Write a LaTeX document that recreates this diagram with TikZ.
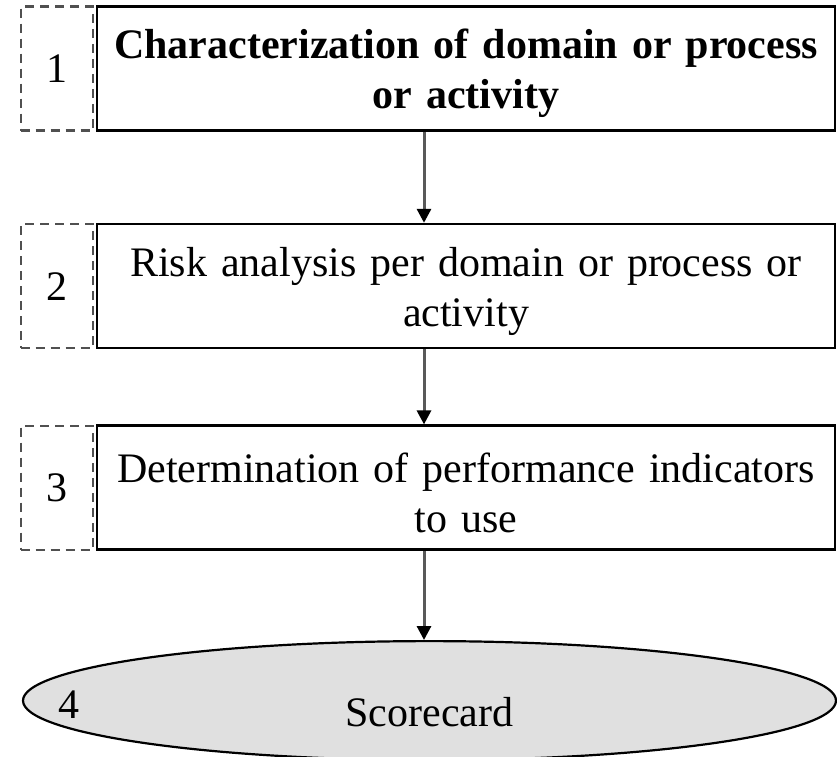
\documentclass[tikz,border=0pt]{standalone}
\usepackage{fontspec}
\setmainfont{Liberation Serif}
\usepackage{tikz}
\usetikzlibrary{arrows.meta, positioning, shapes.geometric}
\definecolor{stepgray}{RGB}{224,224,224}
\definecolor{dashgray}{RGB}{80,80,80}

\begin{document}
\begin{tikzpicture}[
  x=1pt, y=1pt,
  stagebox/.style={rectangle, draw=black, line width=2.6pt, minimum width=738pt,
              minimum height=124pt, text width=720pt, align=center, inner sep=0pt,
              text height=40pt, font=\fontsize{42}{50}\selectfont},
  numbox/.style={rectangle, draw=dashgray, dash pattern=on 9pt off 6pt,
              line width=2.2pt, minimum width=72pt, minimum height=124pt,
              inner sep=0pt, font=\fontsize{42}{50}\selectfont},
  arrow/.style={-{Triangle[length=14pt,width=14pt,color=black]}, line width=3pt, black!65}
]
\useasboundingbox (0,0) rectangle (837,-756);

% Steps
\node[stagebox, font=\fontsize{42}{50}\selectfont\bfseries] (char) at (466,-68.5)
  {Characterization of domain or process\\or activity};
\node[stagebox, below=91pt of char] (risk)
  {Risk analysis per domain or process or\\activity};
\node[stagebox, below=75pt of risk] (perf)
  {Determination of performance indicators\\to use};

% Step numbers
\node[numbox, left=2pt of char] (n1) {1};
\node[numbox, left=2pt of risk] (n2) {2};
\node[numbox, left=2pt of perf] (n3) {3};

% Result
\node[ellipse, draw=black, line width=2.2pt, fill=stepgray, minimum width=813pt,
      minimum height=119pt, inner sep=0pt, below=89pt of perf, xshift=-36.5pt] (score) {};
\node[font=\fontsize{42}{50}\selectfont, yshift=-12pt] (scorelbl) at (score.center) {Scorecard};
\node[font=\fontsize{42}{50}\selectfont, right=33pt of score.west, yshift=-4pt] (n4) {4};

% Arrows
\draw[arrow] ([xshift=-42pt]char.south) -- ([xshift=-42pt]risk.north);
\draw[arrow] ([xshift=-42pt]risk.south) -- ([xshift=-42pt]perf.north);
\draw[arrow] ([xshift=-42pt]perf.south) -- ([xshift=-42pt]perf.south |- score.north);
\end{tikzpicture}
\end{document}
